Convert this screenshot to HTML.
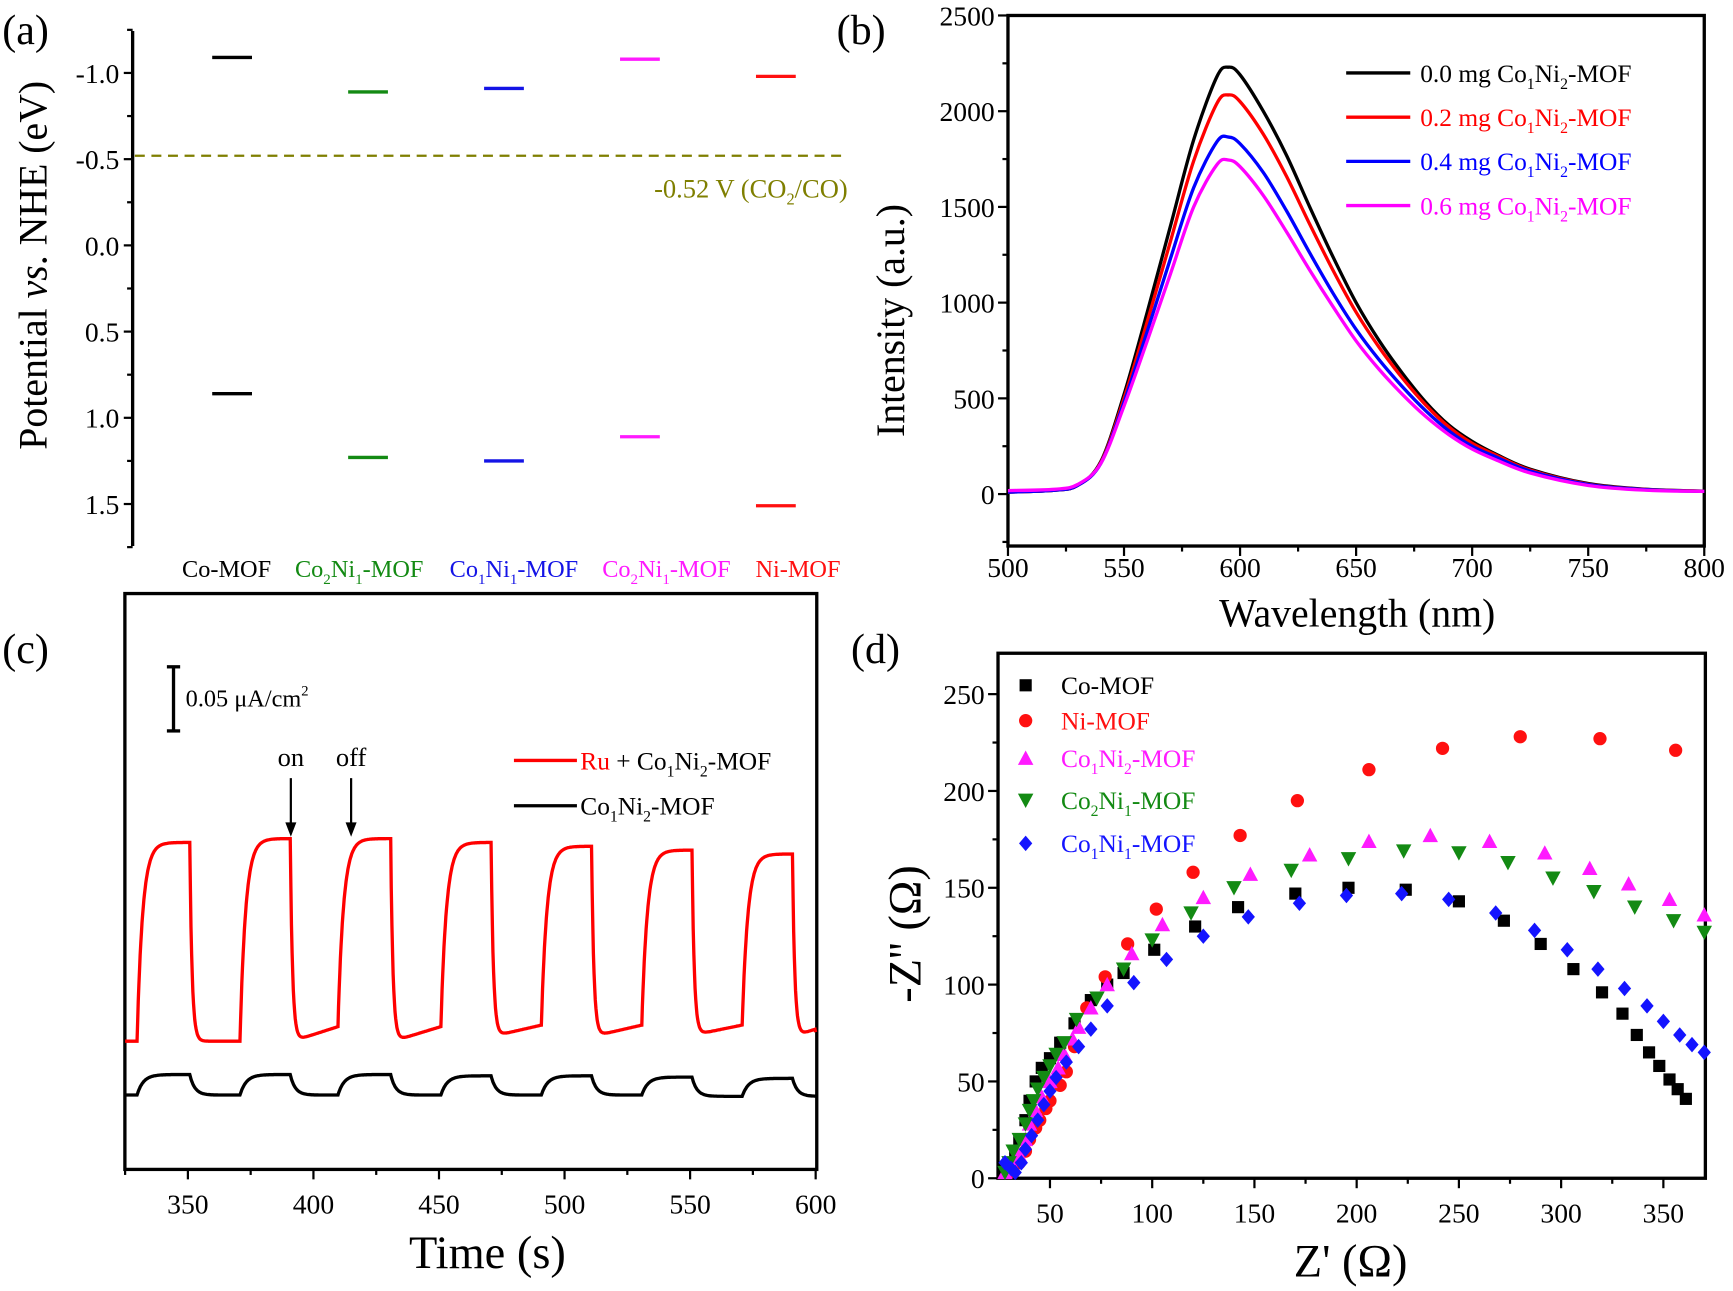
<!DOCTYPE html>
<html><head><meta charset="utf-8"><style>
html,body{margin:0;padding:0;background:#fff;}
svg{display:block;font-family:"Liberation Serif",serif;}
</style></head><body>
<svg id="fig" width="1733" height="1291" viewBox="0 0 1568 1168" preserveAspectRatio="none" xmlns="http://www.w3.org/2000/svg"></svg>
<script>
// ---------- Panel (a) data ----------
const aCats = ["Co-MOF","Co2Ni1-MOF","Co1Ni1-MOF","Co2Ni1-MOF","Ni-MOF"];
const aCB = [-1.09,-0.89,-0.91,-1.08,-0.98];
const aVB = [0.86,1.23,1.25,1.11,1.51];
const aTicks = [-1.0,-0.5,0.0,0.5,1.0,1.5];
const aRef = -0.52;
// ---------- Panel (b) data ----------
const bWl = [500,520,530,540,550,560,570,580,590,595,600,610,620,630,640,650,660,670,680,690,700,710,725,750,775,800];
const bS0 = [10,20,45,170,520,950,1400,1850,2180,2230,2190,2000,1770,1500,1240,1000,800,630,480,360,275,210,130,55,25,15];
const bS2 = [10,20,45,165,500,900,1320,1740,2040,2085,2050,1880,1660,1410,1170,950,765,605,465,350,265,205,125,52,24,15];
const bS4 = [10,20,45,160,480,850,1230,1600,1840,1865,1830,1680,1480,1260,1050,860,700,560,435,330,250,195,120,50,23,14];
const bS6 = [18,25,50,160,460,800,1150,1500,1720,1745,1710,1560,1370,1170,980,800,650,520,405,310,235,180,110,45,20,14];
const bXTicks = [500,550,600,650,700,750,800];
const bYTicks = [0,500,1000,1500,2000,2500];
// ---------- Panel (c) data ----------
const cOn = [330,371,410,451,491,531,571];
const cOff = [351,391,431,471,511,551,591];
const cRedHigh = [0.255,0.258,0.258,0.255,0.252,0.249,0.246];
const cRedLowStart = [0.100,0.100,0.100,0.104,0.104,0.105,0.104];
const cRedLowEnd = [0.100,0.112,0.112,0.113,0.113,0.113,0.110];
const cBlkHigh = [0.074,0.074,0.074,0.073,0.073,0.072,0.071];
const cBlkLow = [0.058,0.058,0.058,0.058,0.058,0.057,0.057];
const cXTicks = [350,400,450,500,550,600];
// ---------- Panel (d) data ----------
const dCoX=[28,30,33,35,38,40,43,46,50,55,62,70,78,86,101,121,142,170,196,224,250,272,290,306,320,330,337,343,348,353,357,361];
const dCoY=[5,8,12,20,30,40,50,57,62,70,80,92,100,106,118,130,140,147,150,149,143,133,121,108,96,85,74,65,58,51,46,41];
const dNiX=[30,35,38,40,43,45,48,50,55,58,62,68,77,88,102,120,143,171,206,242,280,319,356];
const dNiY=[3,8,14,20,26,30,36,40,48,55,68,88,104,121,139,158,177,195,211,222,228,227,221];
const dMgX=[28,32,35,38,40,43,46,50,54,57,61,64,70,78,90,105,125,148,177,206,236,265,292,314,333,353,370];
const dMgY=[3,6,12,20,28,35,42,50,57,64,72,78,88,100,116,131,145,157,167,174,177,174,168,160,152,144,136];
const dGrX=[28,30,32,35,38,40,42,44,47,50,53,57,63,73,86,100,119,140,168,196,223,250,274,296,316,336,355,370];
const dGrY=[3,8,14,20,28,35,40,46,52,58,64,70,82,93,108,123,137,150,159,165,169,168,163,155,148,140,133,127];
const dBlX=[28,31,33,36,38,41,44,47,50,53,58,64,70,78,91,107,125,147,172,195,222,245,268,287,303,318,331,342,350,358,364,370];
const dBlY=[8,5,3,8,15,22,30,38,45,52,60,68,77,89,101,113,125,135,142,146,147,144,137,128,118,108,98,89,81,74,69,65];
const dXTicks=[50,100,150,200,250,300,350];
const dYTicks=[0,50,100,150,200,250];

const NS="http://www.w3.org/2000/svg";
const svg=document.getElementById('fig');
function mk(tag,attrs,parent){const e=document.createElementNS(NS,tag);for(const k in attrs)e.setAttribute(k,attrs[k]);(parent||svg).appendChild(e);return e;}
function txt(s,x,y,size,fill,anchor,parent){const t=mk('text',{x:x,y:y,'font-size':size,fill:fill||'#000','text-anchor':anchor||'start'},parent);t.innerHTML=s;return t;}
function grp(name){const g=mk('g',{});return g;}
const sub=(s)=>'<tspan baseline-shift="-6" font-size="0.62em">'+s+'</tspan>';
function fmt(name){
  return name.replace(/(Co|Ni)(\d)/g,(m,a,d)=>a+sub(d));
}

// ===== Panel (a) =====
(function(){
  const g=grp('panel-a');
  const ya=v=>222+v*156;
  const xc=i=>210+i*123;
  const labX=[205,325,465,603,722];
  const cols=['#000','#138a13','#1414e6','#ff1aff','#ff1010'];
  txt('(a)',2,40,38,'#000','start',g);
  const ax=mk('line',{x1:120,y1:28,x2:120,y2:494,stroke:'#000','stroke-width':3},g);
  
  for(let v=-1.25;v<=1.76;v+=0.25){const maj=Math.abs(v*2-Math.round(v*2))<1e-6;mk('line',{x1:maj?112:115,x2:120,y1:ya(v),y2:ya(v),stroke:'#000','stroke-width':2},g);}
  aTicks.forEach(v=>{const t=txt(v===0?'0.0':(v<0?'-'+Math.abs(v).toFixed(1):v.toFixed(1)),108,ya(v)+9,25,'#000','end',g);});
  const yt=txt('Potential <tspan font-style="italic">vs</tspan>. NHE (eV)',0,0,36,'#000','middle',g);
  yt.setAttribute('transform','translate(42,240) rotate(-90)');
  const dl=mk('line',{x1:122,x2:767,y1:ya(aRef),y2:ya(aRef),stroke:'#7f7f00','stroke-width':2,'stroke-dasharray':'9,6'},g);
  
  const rl=txt('-0.52 V (CO'+sub('2')+'/CO)',767,ya(aRef)+38,24,'#7f7f00','end',g);
  
  aCats.forEach((c,i)=>{
    const b1=mk('line',{x1:xc(i)-18,x2:xc(i)+18,y1:ya(aCB[i]),y2:ya(aCB[i]),stroke:cols[i],'stroke-width':3},g);
    
    const b2=mk('line',{x1:xc(i)-18,x2:xc(i)+18,y1:ya(aVB[i]),y2:ya(aVB[i]),stroke:cols[i],'stroke-width':3},g);
    
    const l=txt(fmt(c),labX[i],522,22,cols[i],'middle',g);
    
  });
})();

// ===== Panel (b) =====
(function(){
  const g=grp('panel-b');
  const X0=912,X1=1542,Y0=14,Y1=494;
  const xb=v=>X0+(v-500)*(X1-X0)/300;
  const yb=v=>447-v*0.1732;
  txt('(b)',757,40,38,'#000','start',g);
  const fr=mk('rect',{x:X0,y:Y0,width:X1-X0,height:Y1-Y0,fill:'none',stroke:'#000','stroke-width':3},g);
  
  for(let v=500;v<=800;v+=25){const maj=v%50===0;mk('line',{x1:xb(v),x2:xb(v),y1:Y1,y2:Y1+(maj?9:5),stroke:'#000','stroke-width':2},g);}
  for(let v=-250;v<=2500;v+=250){const maj=v%500===0;mk('line',{x1:X0-(maj?9:5),x2:X0,y1:yb(v),y2:yb(v),stroke:'#000','stroke-width':2},g);}
  bXTicks.forEach(v=>{const t=txt(v,xb(v),522,25,'#000','middle',g);});
  bYTicks.forEach(v=>{const t=txt(v,900,yb(v)+9,25,'#000','end',g);});
  const xt=txt('Wavelength (nm)',1228,567,36,'#000','middle',g);
  const yt=txt('Intensity (a.u.)',0,0,36,'#000','middle',g);yt.setAttribute('transform','translate(818,290) rotate(-90)');
  
  const series=[[bS0,'#000','0.0'],[bS2,'#ff0000','0.2'],[bS4,'#0000ff','0.4'],[bS6,'#ff00ff','0.6']];
  series.forEach((s,k)=>{
    const pts=bWl.map((w,i)=>[xb(w),yb(s[0][i])]);
    let d='M'+pts[0][0]+','+pts[0][1];
    for(let i=0;i<pts.length-1;i++){const p0=pts[Math.max(i-1,0)],p1=pts[i],p2=pts[i+1],p3=pts[Math.min(i+2,pts.length-1)];
      d+=' C'+(p1[0]+(p2[0]-p0[0])/6)+','+(p1[1]+(p2[1]-p0[1])/6)+' '+(p2[0]-(p3[0]-p1[0])/6)+','+(p2[1]-(p3[1]-p1[1])/6)+' '+p2[0]+','+p2[1];}
    const p=mk('path',{d:d,fill:'none',stroke:s[1],'stroke-width':3},g);
    
    const ly=66+k*40;
    const ll=mk('line',{x1:1218,x2:1276,y1:ly,y2:ly,stroke:s[1],'stroke-width':3},g);
    
    const lt=txt(s[2]+' mg '+fmt('Co1Ni2-MOF'),1285,ly+8,23,s[1],'start',g);
    
  });
})();

// ===== Panel (c) =====
(function(){
  const g=grp('panel-c');
  const X0=113,X1=739,Y0=537,Y1=1058;
  const xc=t=>170+(t-350)*2.272;
  const yc=v=>Y1-v*1160;
  txt('(c)',2,600,38,'#000','start',g);
  const fr=mk('rect',{x:X0,y:Y0,width:X1-X0,height:Y1-Y0,fill:'none',stroke:'#000','stroke-width':3},g);
  
  for(let v=325;v<=600;v+=25){const maj=v%50===0;mk('line',{x1:xc(v),x2:xc(v),y1:Y1,y2:Y1+(maj?9:5),stroke:'#000','stroke-width':2},g);}
  cXTicks.forEach(v=>{const t=txt(v,xc(v),1098,25,'#000','middle',g);});
  const xt=txt('Time (s)',441,1147,42,'#000','middle',g);
  function sim(high,lowS,lowE,tauOn,tauOff){
    let v=lowS[0],pts=[];const dt=0.25;
    for(let t=325;t<=600;t+=dt){
      let target=lowS[0],tau=tauOff;
      for(let i=0;i<cOn.length;i++){
        if(t>=cOn[i]&&t<cOff[i]){target=high[i];tau=tauOn;break;}
        const nextOn=i+1<cOn.length?cOn[i+1]:600;
        if(t>=cOff[i]&&t<nextOn){const f=(t-cOff[i])/(nextOn-cOff[i]);target=lowS[i]+(lowE[i]-lowS[i])*f;tau=tauOff;break;}
      }
      v+= (target-v)*(1-Math.exp(-dt/tau));
      pts.push(xc(t).toFixed(1)+','+yc(v).toFixed(1));
    }
    return 'M'+pts.join(' L');
  }
  const red=mk('path',{d:sim(cRedHigh,cRedLowStart,cRedLowEnd,2.2,0.9),fill:'none',stroke:'#ff0000','stroke-width':3},g);
  
  const blk=mk('path',{d:sim(cBlkHigh,cBlkLow,cBlkLow,2.5,2),fill:'none',stroke:'#000','stroke-width':3},g);
  
  const sb=grp('scale-bar');g.appendChild(sb);
  mk('line',{x1:157,x2:157,y1:yc(0.392),y2:yc(0.342),stroke:'#000','stroke-width':3},sb);
  mk('line',{x1:151,x2:163,y1:yc(0.392),y2:yc(0.392),stroke:'#000','stroke-width':3},sb);
  mk('line',{x1:151,x2:163,y1:yc(0.342),y2:yc(0.342),stroke:'#000','stroke-width':3},sb);
  txt('0.05 μA/cm<tspan baseline-shift="10" font-size="0.6em">2</tspan>',168,639,22,'#000','start',sb);
  [[391,'on'],[415,'off']].forEach(a=>{
    const ag=grp('arrow-'+a[1]);g.appendChild(ag);
    mk('line',{x1:xc(a[0]),x2:xc(a[0]),y1:704,y2:748,stroke:'#000','stroke-width':2},ag);
    mk('path',{d:`M${xc(a[0])-5},${744} L${xc(a[0])+5},${744} L${xc(a[0])},${757} Z`,fill:'#000'},ag);
    txt(a[1],xc(a[0]),693,24,'#000','middle',ag);
  });
  const l1=mk('line',{x1:465,x2:522,y1:688,y2:688,stroke:'#ff0000','stroke-width':3},g);
  const t1=txt('<tspan fill="#ff0000">Ru</tspan> + '+fmt('Co1Ni2-MOF'),525,696,23,'#000','start',g);
  const l2=mk('line',{x1:465,x2:522,y1:729,y2:729,stroke:'#000','stroke-width':3},g);
  const t2=txt(fmt('Co1Ni2-MOF'),525,737,23,'#000','start',g);
})();

// ===== Panel (d) =====
(function(){
  const g=grp('panel-d');
  const X0=903,X1=1543,Y0=591,Y1=1066;
  const xd=v=>950+(v-50)*1.85;
  const yd=v=>Y1-v*1.752;
  txt('(d)',770,600,38,'#000','start',g);
  const fr=mk('rect',{x:X0,y:Y0,width:X1-X0,height:Y1-Y0,fill:'none',stroke:'#000','stroke-width':3},g);
  
  for(let v=50;v<=350;v+=25){const maj=v%50===0;mk('line',{x1:xd(v),x2:xd(v),y1:Y1,y2:Y1+(maj?9:5),stroke:'#000','stroke-width':2},g);}
  for(let v=0;v<=250;v+=25){const maj=v%50===0;mk('line',{x1:X0-(maj?9:5),x2:X0,y1:yd(v),y2:yd(v),stroke:'#000','stroke-width':2},g);}
  dXTicks.forEach(v=>{const t=txt(v,xd(v),1106,25,'#000','middle',g);});
  dYTicks.forEach(v=>{const t=txt(v,891,yd(v)+9,25,'#000','end',g);});
  const xt=txt("Z' (Ω)",1222,1155,42,'#000','middle',g);
  const yt=txt("-Z'' (Ω)",0,0,42,'#000','middle',g);yt.setAttribute('transform','translate(833,845) rotate(-90)');
  
  function marker(shape,x,y,c,parent){
    if(shape==='sq')return mk('rect',{x:x-5.5,y:y-5.5,width:11,height:11,fill:c},parent);
    if(shape==='ci')return mk('circle',{cx:x,cy:y,r:6,fill:c},parent);
    if(shape==='up')return mk('path',{d:`M${x},${y-7} L${x+7},${y+6} L${x-7},${y+6}Z`,fill:c},parent);
    if(shape==='dn')return mk('path',{d:`M${x},${y+7} L${x+7},${y-6} L${x-7},${y-6}Z`,fill:c},parent);
    return mk('path',{d:`M${x},${y-7} L${x+6},${y} L${x},${y+7} L${x-6},${y}Z`,fill:c},parent);
  }
  const series=[[dCoX,dCoY,'sq','#000','Co-MOF'],[dNiX,dNiY,'ci','#ff1010','Ni-MOF'],[dMgX,dMgY,'up','#ff1aff','Co1Ni2-MOF'],[dGrX,dGrY,'dn','#138a13','Co2Ni1-MOF'],[dBlX,dBlY,'di','#1414ff','Co1Ni1-MOF']];
  const ly=[620,652,686,724,763];
  series.forEach((s,k)=>{
    const sg=grp('series-'+s[4]);g.appendChild(sg);
    s[0].forEach((xv,i)=>{const m=marker(s[2],xd(xv),yd(s[1][i]),s[3],sg);
      
      });
    const lm=marker(s[2],928,ly[k],s[3],g);
    
    
    const lt=txt(fmt(s[4]),960,ly[k]+8,23,s[3],'start',g);
    
    
  });
})();
</script>
</body></html>
